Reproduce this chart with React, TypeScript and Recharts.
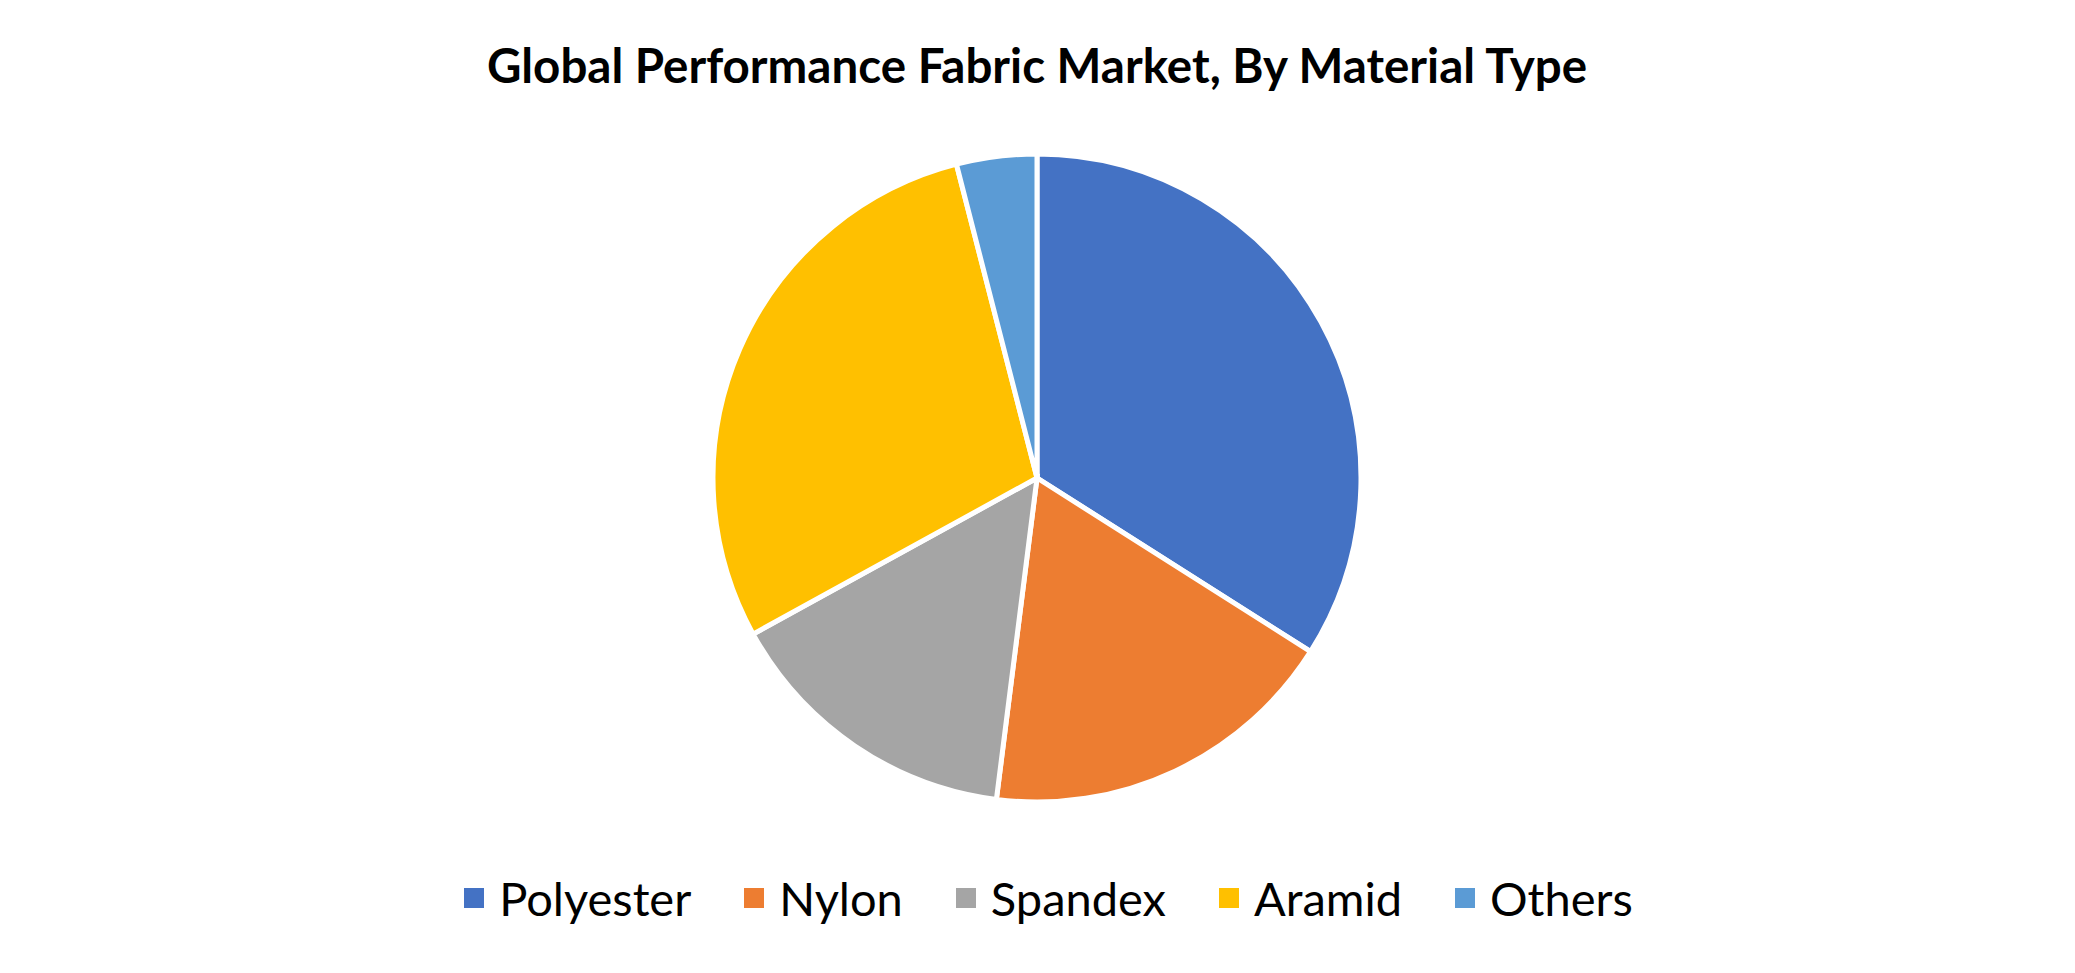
import { Cell, Legend, Pie, PieChart } from "recharts";

const MATERIALS = ["Polyester", "Nylon", "Spandex", "Aramid", "Others"];
const SHARES = [34, 18, 15, 29, 4];
const COLORS = ["#4472C4", "#ED7D31", "#A5A5A5", "#FFC000", "#5B9BD5"];
const TITLE = "Global Performance Fabric Market, By Material Type";

const W = 2075;
const H = 973;
const FONT = "Lato, 'Open Sans', sans-serif";

const data = MATERIALS.map((name, i) => ({ name, value: SHARES[i] }));

function LegendContent() {
	return (
		<div
			style={{
				display: "flex",
				justifyContent: "center",
				alignItems: "center",
				gap: 53,
				paddingLeft: 22,
				fontFamily: FONT,
				fontSize: 47,
				color: "#000",
			}}
		>
			{MATERIALS.map((m, i) => (
				<div key={m} style={{ display: "flex", alignItems: "center" }}>
					<span
						style={{
							width: 20,
							height: 20,
							background: COLORS[i],
							marginRight: 15,
							display: "inline-block",
						}}
					/>
					<span style={{ lineHeight: "50px" }}>{m}</span>
				</div>
			))}
		</div>
	);
}

export default function App() {
	return (
		<div style={{ width: W, height: H, background: "#fff" }}>
			<style>{`body{margin:0}`}</style>
			<PieChart
				width={W}
				height={H}
				margin={{ top: 0, right: 0, bottom: 0, left: 0 }}
			>
				<text
					x={1037}
					y={83}
					textAnchor="middle"
					fontFamily={FONT}
					fontWeight={700}
					fontSize={47.5}
					fill="#000"
				>
					{TITLE}
				</text>
				<Pie
					data={data}
					dataKey="value"
					nameKey="name"
					cx={1037}
					cy={478}
					outerRadius={324}
					startAngle={90}
					endAngle={-270}
					stroke="#fff"
					strokeWidth={5}
					isAnimationActive={false}
				>
					{data.map((d, i) => (
						<Cell key={d.name} fill={COLORS[i]} />
					))}
				</Pie>
				<Legend
					content={<LegendContent />}
					wrapperStyle={{ top: 873, left: 0, width: W }}
				/>
			</PieChart>
		</div>
	);
}
